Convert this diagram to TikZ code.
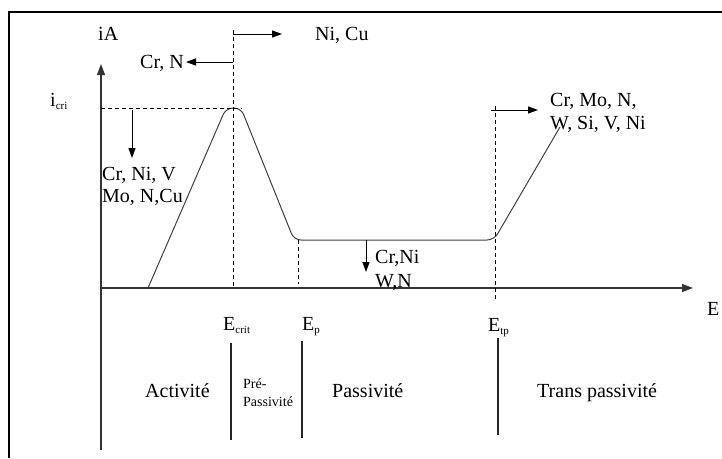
\documentclass[tikz,border=0pt]{standalone}
\usepackage{fontspec}
\setmainfont{Liberation Serif}
\usetikzlibrary{arrows.meta}
\tikzset{
  lbl/.style={anchor=base west, inner sep=0pt, font=\fontsize{20}{22}\selectfont, align=left},
  smalllbl/.style={anchor=base west, inner sep=0pt, font=\fontsize{14}{18}\selectfont, align=left},
  axisline/.style={line width=1.3pt, draw=black!80, -{Triangle[length=11pt,width=8pt]}},
  curveline/.style={line width=1pt, draw=black!75, rounded corners=7pt},
  dashline/.style={line width=0.9pt, dash pattern=on 4pt off 3pt},
  effarrow/.style={line width=1pt, -{Triangle[length=10pt,width=7pt]}},
  sepline/.style={line width=1.3pt, draw=black!85},
  framebox/.style={line width=2pt}
}
\newcommand{\sbs}[1]{\raisebox{-3pt}{\fontsize{11}{11}\selectfont #1}}
\begin{document}
\begin{tikzpicture}[x=1pt,y=-1pt]
\useasboundingbox (0,0) rectangle (722,458);
% frame
\draw[framebox] (9,458) -- (9,12) -- (722,12);
% axes
\coordinate (O) at (101,288);
\coordinate (ytop) at (101,64);
\coordinate (ybot) at (101,450);
\coordinate (xend) at (693,288);
\draw[axisline] (ybot) -- (ytop);
\draw[axisline] (O) -- (xend);
% curve
\draw[curveline] (148,288) -- (226,108) -- (241,108) -- (294,240) -- (494,240) -- (560,127);
% dashed guides
\coordinate (dcTop) at (233,30);
\coordinate (dcBot) at (233,288);
\draw[dashline] (dcTop) -- (dcBot);
\coordinate (hL) at (101,108);
\coordinate (hR) at (242,108);
\draw[dashline] (hL) -- (hR);
\coordinate (dpT) at (298,240);
\coordinate (dpB) at (298,284);
\draw[dashline] (dpT) -- (dpB);
\coordinate (dtT) at (495,106);
\coordinate (dtB) at (495,300);
\draw[dashline] (dtT) -- (dtB);
% labels
\node[lbl] (iA) at (98,40) {iA};
\node[lbl] (icri) at (50,106) {i\sbs{cri}};
\node[lbl] (E) at (707,315) {E};
\node[lbl] (crN) at (140,68) {Cr, N};
\node[lbl] (niCu) at (315,40) {Ni, Cu};
\node[lbl] (crNiV) at (102,202) {Cr, Ni, V\\Mo, N,Cu};
\node[lbl] (crNi) at (375,287) {Cr,Ni\\[2pt]W,N};
\node[lbl] (crMo) at (550,129) {Cr, Mo, N,\\[1pt]W, Si, V, Ni};
% effect arrows
\coordinate (a1s) at (233,34);
\coordinate (a1e) at (282,34);
\draw[effarrow] (a1s) -- (a1e);
\coordinate (a2s) at (233,62);
\coordinate (a2e) at (186,62);
\draw[effarrow] (a2s) -- (a2e);
\coordinate (a3s) at (132,110);
\coordinate (a3e) at (132,158);
\draw[effarrow] (a3s) -- (a3e);
\coordinate (a4s) at (366,240);
\coordinate (a4e) at (366,272);
\draw[effarrow] (a4s) -- (a4e);
\coordinate (a5s) at (491,110);
\coordinate (a5e) at (538,110);
\draw[effarrow] (a5s) -- (a5e);
% potentials
\node[lbl] (Ecrit) at (223,330) {E\sbs{crit}};
\node[lbl] (Ep) at (302,330) {E\sbs{p}};
\node[lbl] (Etp) at (488,331) {E\sbs{tp}};
% separators
\coordinate (s1t) at (231,343); \coordinate (s1b) at (231,440);
\coordinate (s2t) at (302,341); \coordinate (s2b) at (302,438);
\coordinate (s3t) at (498,338); \coordinate (s3b) at (498,435);
\draw[sepline] (s1t) -- (s1b);
\draw[sepline] (s2t) -- (s2b);
\draw[sepline] (s3t) -- (s3b);
% zones
\node[lbl] (act) at (145,397) {Activité};
\node[smalllbl] (pre) at (243,406) {Pré-\\Passivité};
\node[lbl] (pas) at (332,397) {Passivité};
\node[lbl] (trans) at (537,397) {Trans passivité};
\end{tikzpicture}
\end{document}
